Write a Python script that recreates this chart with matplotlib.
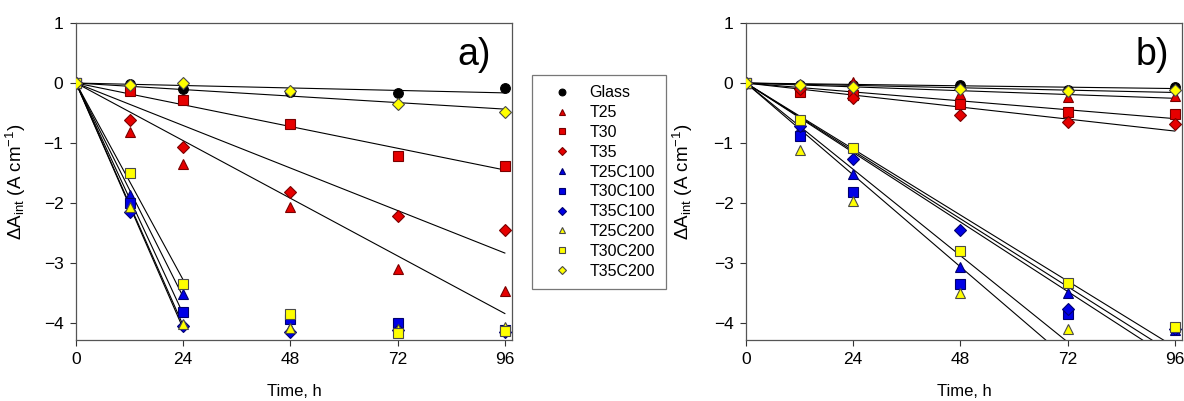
import numpy as np
import matplotlib
matplotlib.use("Agg")
import matplotlib.pyplot as plt

plt.rcParams['font.family'] = ['Liberation Sans', 'DejaVu Sans']
plt.rcParams['mathtext.fontset'] = 'custom'
plt.rcParams['mathtext.rm'] = 'Liberation Sans'
plt.rcParams['mathtext.it'] = 'Liberation Sans:italic'

# ---------------- data ----------------
time_h = [0, 12, 24, 48, 72, 96]
series_names = ["Glass", "T25", "T30", "T35", "T25C100", "T30C100", "T35C100",
                "T25C200", "T30C200", "T35C200"]

# panel a)
glass_a   = [0, -0.02, -0.10, -0.15, -0.17, -0.08]
t25_a     = [0, -0.81, -1.35, -2.07, -3.10, -3.46]
t30_a     = [0, -0.13, -0.29, -0.69, -1.22, -1.39]
t35_a     = [0, -0.61, -1.06, -1.81, -2.21, -2.45]
t25c100_a = [0, -1.87, -3.52, -4.08, -4.06, -4.10]
t30c100_a = [0, -2.00, -3.81, -3.93, -4.00, -4.12]
t35c100_a = [0, -2.15, -4.04, -4.15, -4.12, -4.14]
t25c200_a = [0, -2.06, -4.02, -4.08, -4.10, -4.06]
t30c200_a = [0, -1.50, -3.35, -3.85, -4.17, -4.13]
t35c200_a = [0, -0.03, 0.00, -0.13, -0.35, -0.49]

# panel b)
glass_b   = [0, -0.03, -0.03, -0.04, -0.11, -0.06]
t25_b     = [0, -0.05, 0.02, -0.18, -0.24, -0.21]
t30_b     = [0, -0.15, -0.20, -0.35, -0.49, -0.51]
t35_b     = [0, -0.10, -0.25, -0.54, -0.65, -0.68]
t25c100_b = [0, -0.75, -1.51, -3.07, -3.50, -4.12]
t30c100_b = [0, -0.88, -1.82, -3.34, -3.85, np.nan]
t35c100_b = [0, -0.71, -1.26, -2.45, -3.76, -4.10]
t25c200_b = [0, -1.11, -1.96, -3.50, -4.10, np.nan]
t30c200_b = [0, -0.61, -1.08, -2.80, -3.33, -4.07]
t35c200_b = [0, -0.04, -0.07, -0.10, -0.14, -0.12]

# fit range (hours) used for the regression line of each series
fit_end_a = [96, 96, 96, 96, 24, 24, 24, 24, 24, 96]
fit_end_b = [96] * 10

x_ticks = [0, 24, 48, 72, 96]
y_ticks = [-4, -3, -2, -1, 0, 1]

# ---------------- styles ----------------
red, dred = '#e60000', '#7a0000'
blue, dblue = '#0000e6', '#00006e'
yel, gedge = '#ffff00', '#4a4a4a'
styles = [
    dict(marker='o', mfc='black', mec='black', ms=7),
    dict(marker='^', mfc=red, mec=dred, ms=7),
    dict(marker='s', mfc=red, mec=dred, ms=6.5),
    dict(marker='D', mfc=red, mec=dred, ms=6),
    dict(marker='^', mfc=blue, mec=dblue, ms=7),
    dict(marker='s', mfc=blue, mec=dblue, ms=6.5),
    dict(marker='D', mfc=blue, mec=dblue, ms=6),
    dict(marker='^', mfc=yel, mec=gedge, ms=7),
    dict(marker='s', mfc=yel, mec=gedge, ms=6.5),
    dict(marker='D', mfc=yel, mec=gedge, ms=6),
]

data_a = [glass_a, t25_a, t30_a, t35_a, t25c100_a, t30c100_a, t35c100_a,
          t25c200_a, t30c200_a, t35c200_a]
data_b = [glass_b, t25_b, t30_b, t35_b, t25c100_b, t30c100_b, t35c100_b,
          t25c200_b, t30c200_b, t35c200_b]

W, H = 1184, 401
fig = plt.figure(figsize=(W / 100, H / 100), dpi=100)
ax_a = fig.add_axes([76 / W, 1 - 340 / H, 436 / W, 317 / H])
ax_b = fig.add_axes([746 / W, 1 - 340 / H, 436 / W, 317 / H])

t = np.array(time_h, dtype=float)
handles = []
for ax, data, fit_end, lab, lx in [(ax_a, data_a, fit_end_a, 'a)', 0.913),
                                   (ax_b, data_b, fit_end_b, 'b)', 0.933)]:
    # regression lines through origin
    for y, fe in zip(data, fit_end):
        y = np.array(y, dtype=float)
        m = (t <= fe) & ~np.isnan(y)
        slope = np.sum(t[m] * y[m]) / np.sum(t[m] ** 2)
        xx = np.array([0, fe])
        ax.plot(xx, slope * xx, color='black', lw=0.8, zorder=2)
    hs = []
    for y, st, name in zip(data, styles, series_names):
        h, = ax.plot(t, y, ls='none', mew=0.8, zorder=3, label=name, **st)
        hs.append(h)
    handles = hs
    ax.set_xlim(0, 97.6)
    ax.set_ylim(-4.28, 1)
    ax.set_xticks(x_ticks)
    ax.set_yticks(y_ticks)
    ax.tick_params(direction='out', length=4, width=0.8, colors='#333333',
                   labelcolor='black', labelsize=12.5, pad=5)
    for sp in ax.spines.values():
        sp.set_color('#555555')
        sp.set_linewidth(0.9)
    ax.set_xlabel('Time, h', fontsize=12)
    ax.xaxis.set_label_coords(0.5, -0.14)
    ax.set_ylabel(r'$\Delta$A$_{\rm int}$ (A cm$^{-1}$)', fontsize=13.5)
    ax.text(lx, 0.9, lab, transform=ax.transAxes, fontsize=27,
            ha='center', va='center')

ax_a.yaxis.set_label_coords(-0.11, 0.5)
ax_b.yaxis.set_label_coords(-0.117, 0.5)

leg = fig.legend(handles=handles, loc='upper left',
                 bbox_to_anchor=(532 / W, 1 - 75 / H), borderaxespad=0,
                 frameon=True, fancybox=False, fontsize=11.5, markerscale=0.7,
                 numpoints=1, borderpad=0.65, handlelength=2.5,
                 handletextpad=0.45, labelspacing=0.3)
leg.get_frame().set_edgecolor('#555555')
leg.get_frame().set_linewidth(0.9)

fig.savefig('out.png', dpi=100)
